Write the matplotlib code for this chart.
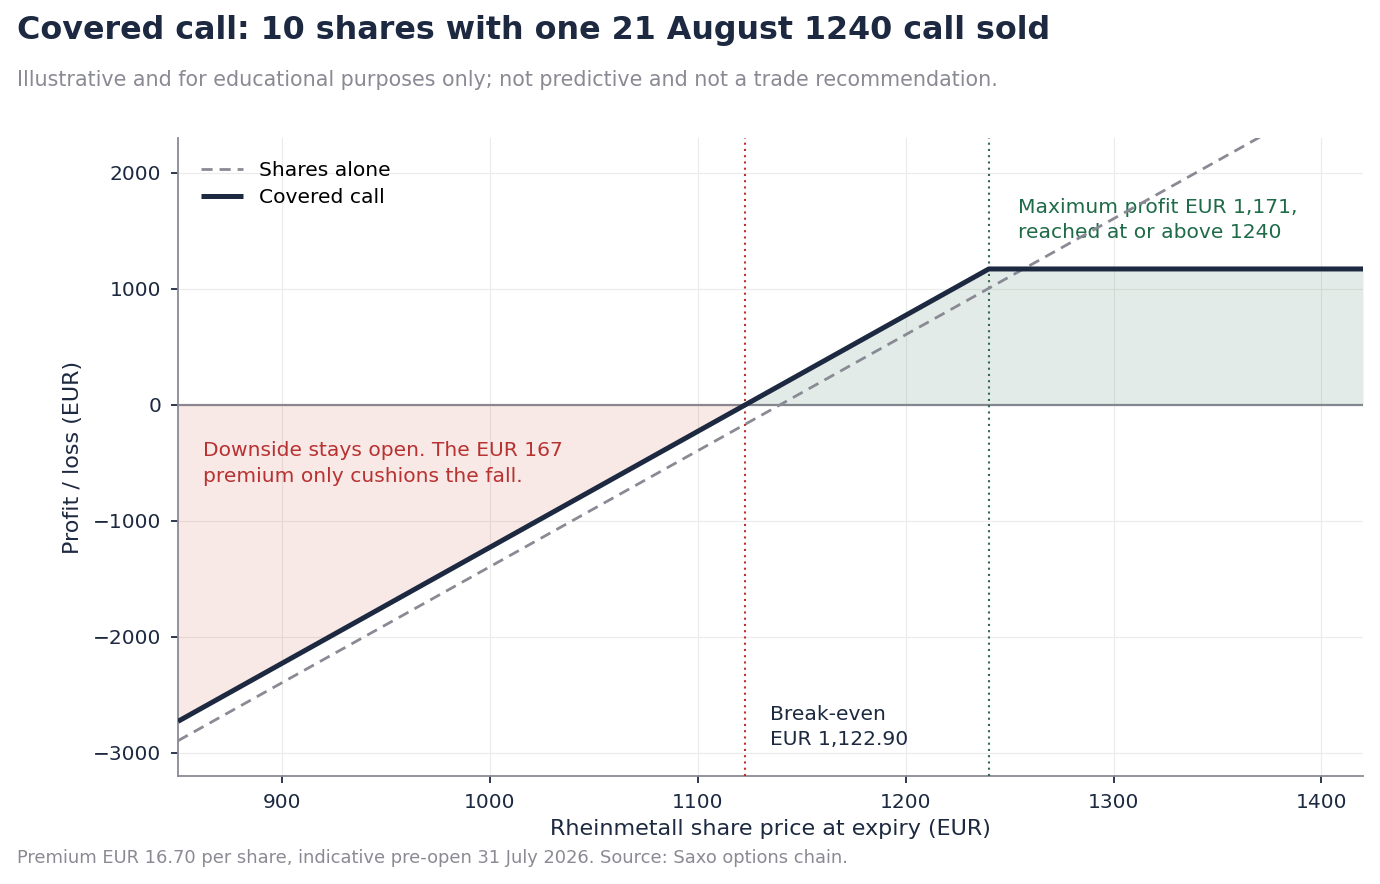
import matplotlib
matplotlib.use("Agg")
import matplotlib.pyplot as plt
import numpy as np

# Data
prices = [850, 1122.9, 1139.6, 1240, 1420]
covered_call = [-2729, 0, 167, 1171, 1171]
shares_alone = [-2896, -167, 0, 1004, 2804]
strike = 1240
break_even = 1122.9
x_ticks = [900, 1000, 1100, 1200, 1300, 1400]
y_ticks = [-3000, -2000, -1000, 0, 1000, 2000]

NAVY = "#1c2940"
GRAY = "#8a8a94"
RED = "#b83232"
GREEN = "#1f6b48"

plt.rcParams['font.family'] = ['DejaVu Sans']

fig = plt.figure(figsize=(13.8, 8.84), dpi=100)
ax = fig.add_axes([178/1380, 1-776/884, (1363-178)/1380, (776-138)/884])

ax.set_xlim(850, 1420)
ax.set_ylim(-3200, 2300)

ax.grid(True, color="#ebebeb", linewidth=0.8, zorder=0)
ax.set_axisbelow(True)

ax.axhline(0, color="#8a8a94", linewidth=1.6, zorder=1)

p = np.array(prices)
c = np.array(covered_call)
ax.fill_between(p, c, 0, where=(p <= break_even), interpolate=True,
                color="#c0392b", alpha=0.11, linewidth=0, zorder=2)
ax.fill_between(p, c, 0, where=(p >= break_even), interpolate=True,
                color="#2e6b4f", alpha=0.13, linewidth=0, zorder=2)

ax.axvline(break_even, color="#c0302b", linestyle=(0, (1, 2)), linewidth=1.5, zorder=3)
ax.axvline(strike, color="#2e6b4f", linestyle=(0, (1, 2)), linewidth=1.5, zorder=3)

ax.plot(prices, shares_alone, color=GRAY, linestyle=(0, (4, 2.5)), linewidth=2.0,
        label="Shares alone", zorder=4)
ax.plot(prices, covered_call, color=NAVY, linewidth=3.6, label="Covered call",
        zorder=5, solid_capstyle='butt')

ax.set_xticks(x_ticks)
ax.set_yticks(y_ticks)
ax.tick_params(axis='both', colors=NAVY, labelsize=14.5, length=5, width=1.3, pad=7)
for s in ['top', 'right']:
    ax.spines[s].set_visible(False)
for s in ['left', 'bottom']:
    ax.spines[s].set_color(GRAY)
    ax.spines[s].set_linewidth(1.3)

ax.set_xlabel("Rheinmetall share price at expiry (EUR)", fontsize=16, color=NAVY, labelpad=5)
ax.set_ylabel("Profit / loss (EUR)", fontsize=16, color=NAVY, labelpad=7)

leg = ax.legend(loc='upper left', frameon=False, fontsize=14.6, handlelength=2.07,
                borderaxespad=0.72, labelspacing=0.4, bbox_to_anchor=(0.0, 1.0))

ax.text(862, -310, "Downside stays open. The EUR 167\npremium only cushions the fall.",
        color=RED, fontsize=14.6, va='top', ha='left', linespacing=1.48)
ax.text(1254, 1785, "Maximum profit EUR 1,171,\nreached at or above 1240",
        color=GREEN, fontsize=14.6, va='top', ha='left', linespacing=1.42)
ax.text(1135, -2585, "Break-even\nEUR 1,122.90",
        color=NAVY, fontsize=14.6, va='top', ha='left', linespacing=1.40)

fig.text(17/1380, 1-31/884, "Covered call: 10 shares with one 21 August 1240 call sold",
         fontsize=22.85, fontweight='bold', color=NAVY, va='center', ha='left')
fig.text(17/1380, 1-80/884, "Illustrative and for educational purposes only; not predictive and not a trade recommendation.",
         fontsize=14.9, color=GRAY, va='center', ha='left')
fig.text(17/1380, 1-858/884, "Premium EUR 16.70 per share, indicative pre-open 31 July 2026. Source: Saxo options chain.",
         fontsize=12.9, color=GRAY, va='center', ha='left')

fig.savefig("out.png", dpi=100)
